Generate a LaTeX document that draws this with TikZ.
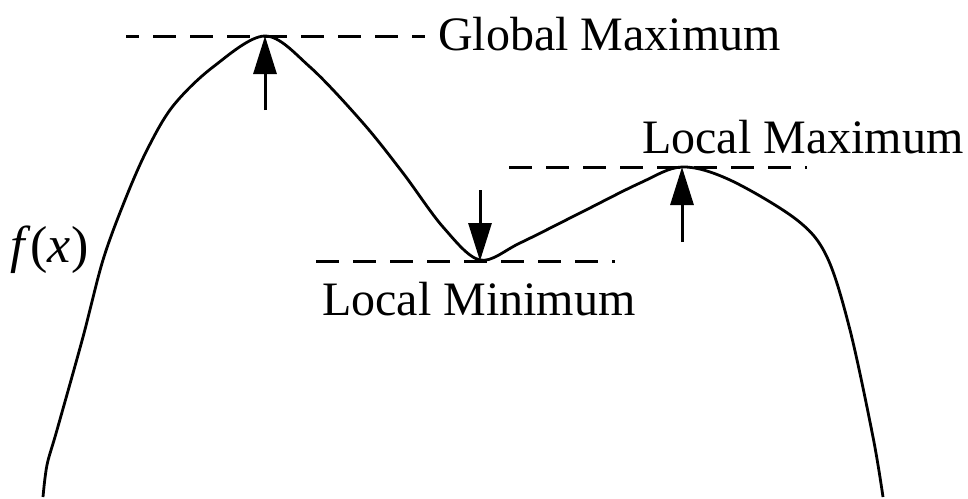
\documentclass[tikz,border=0pt]{standalone}
\usepackage{fontspec}
\setmainfont{Liberation Serif}
\usetikzlibrary{arrows.meta}

\tikzset{
  curve/.style={line width=2.8pt, line join=round},
  level/.style={line width=3pt, dash pattern=on 23pt off 14pt},
  marker/.style={line width=3pt, -{Triangle[length=38pt 0 0,width=23pt 0 0]}},
  caption/.style={inner sep=0pt, anchor=base west, font=\fontsize{48}{58}\selectfont}
}

\begin{document}
\begin{tikzpicture}[x=1pt, y=-1pt]
  \useasboundingbox (0,0) rectangle (968,498);

  % the function
  \draw[curve] plot[smooth, tension=0.55] coordinates {
    (43,497) (47,465) (57,430) (83,337) (103,260) (125,200) (147,150)
    (173,106) (213,67) (265,36) (310,67) (363,123) (403,173) (443,227)
    (480,260) (520,243) (580,213) (640,183) (682,167) (730,180) (797,220)
    (827,257) (850,330) (873,437) (883,497)};

  % extremum levels
  \draw[level, dash phase=10pt] (126,36) -- (425,36);
  \draw[level] (509,167) -- (807,167);
  \draw[level] (316,261) -- (615,261);

  % arrows pointing at the extrema
  \coordinate (gmax) at (265,36);
  \coordinate (gmaxfoot) at (265,110);
  \coordinate (lmin) at (480,261);
  \coordinate (lminfoot) at (480,190);
  \coordinate (lmax) at (682,167);
  \coordinate (lmaxfoot) at (682,242);
  \draw[marker] (gmaxfoot) -- (gmax);
  \draw[marker] (lminfoot) -- (lmin);
  \draw[marker] (lmaxfoot) -- (lmax);

  % labels
  \node[caption] (tglobal) at (438,50) {Global Maximum};
  \node[caption] (tlmax) at (642,153) {Local Maximum};
  \node[caption] (tlmin) at (322,315) {Local Minimum};
  \node[caption, font=\fontsize{52}{60}\selectfont] (tfx) at (10,262) {\textit{f}(\textit{x})};
\end{tikzpicture}
\end{document}
